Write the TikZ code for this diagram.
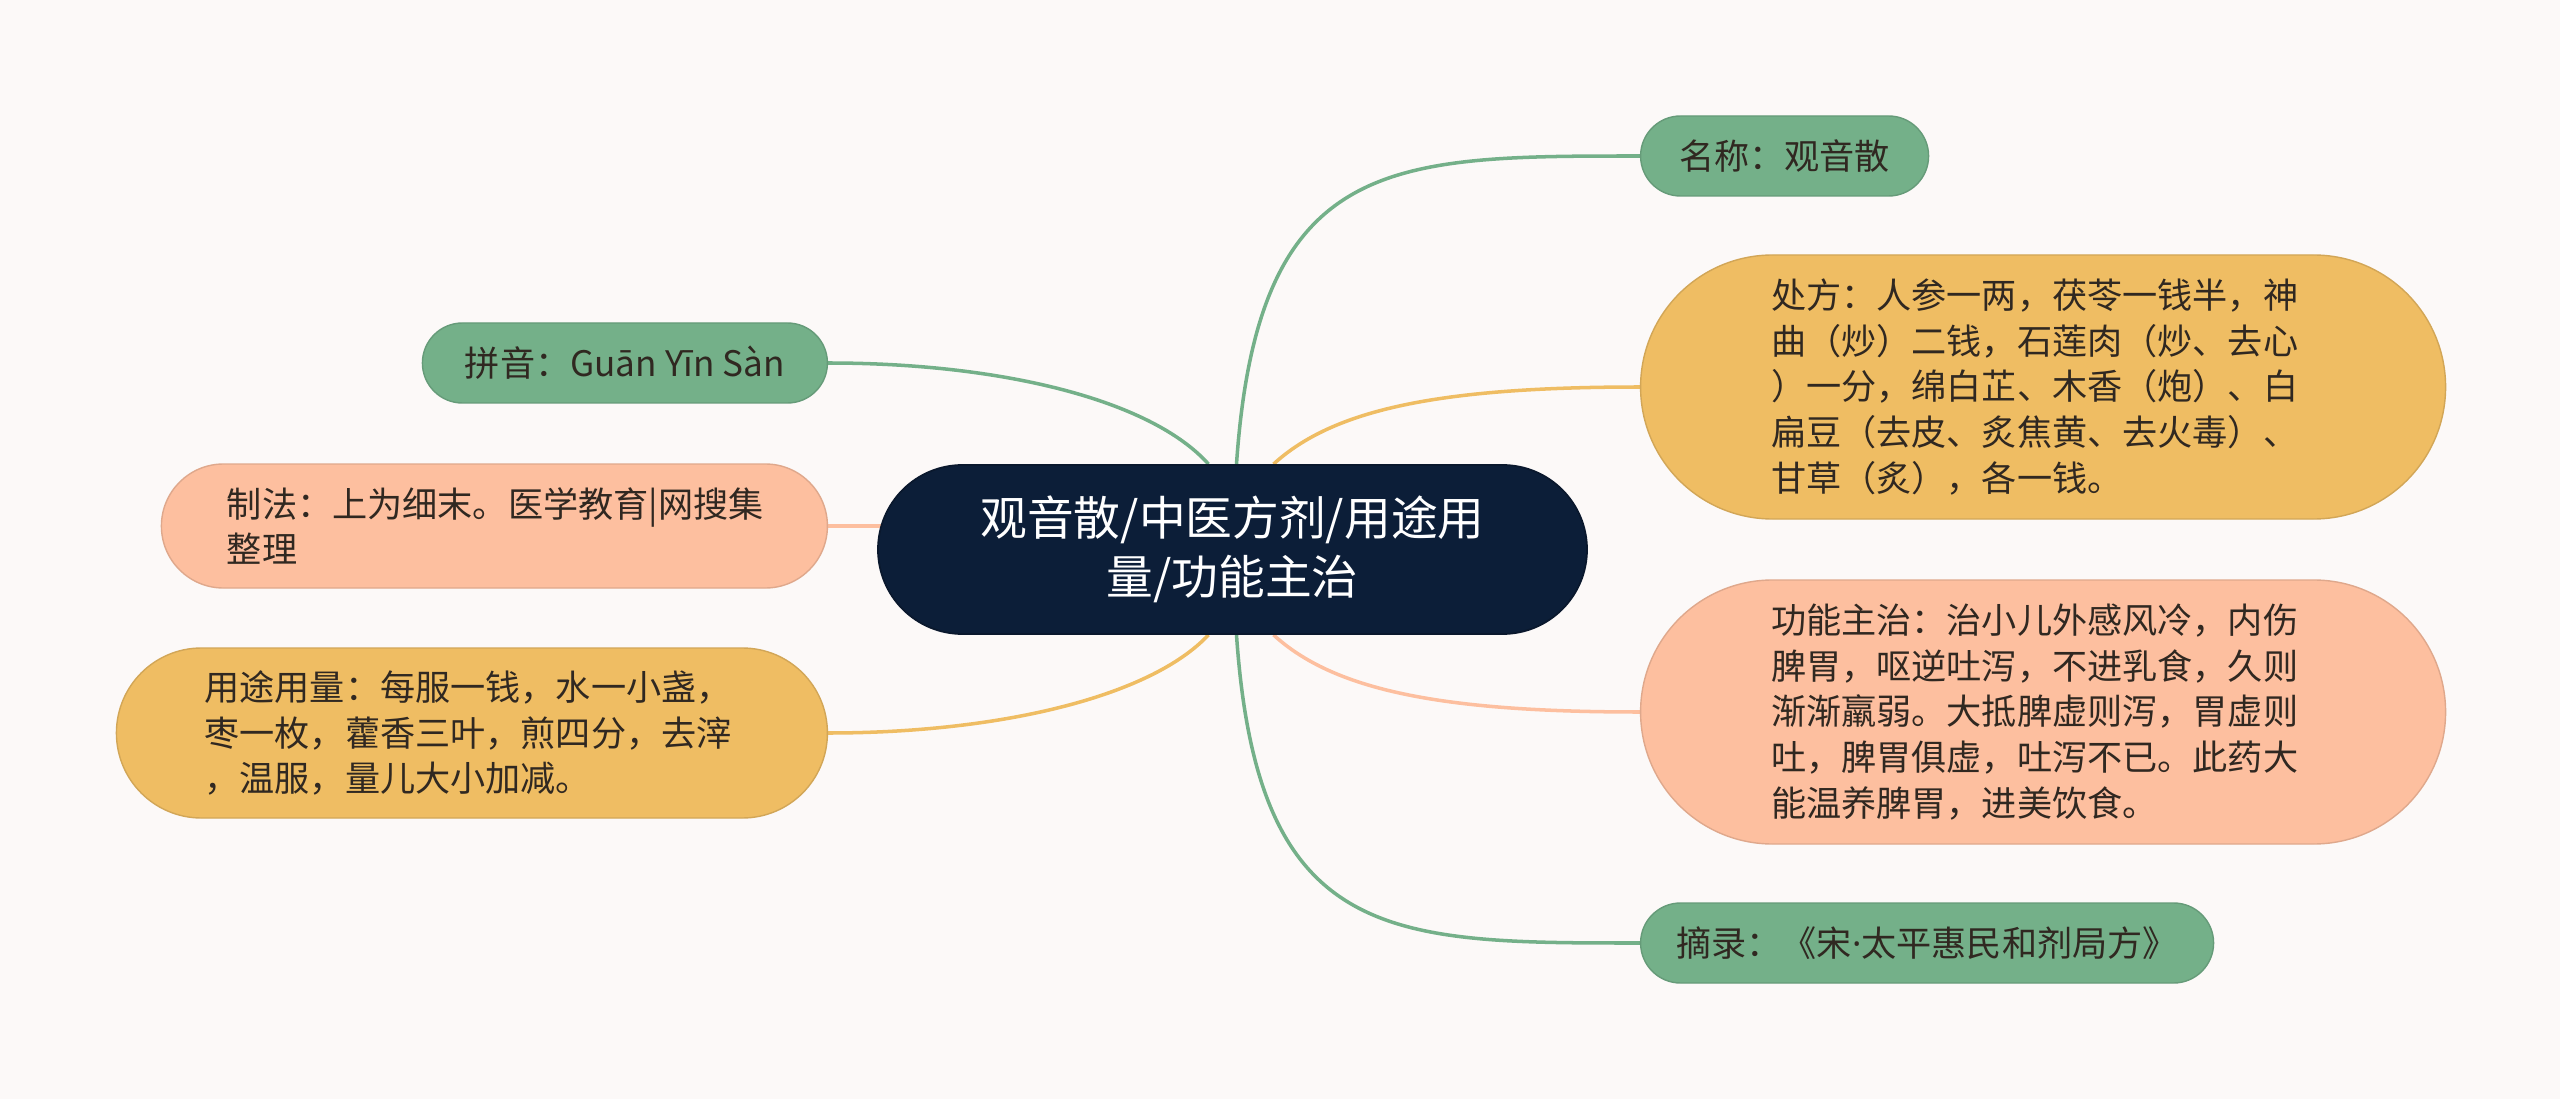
\documentclass[tikz,border=0pt]{standalone}
\usepackage{fontspec}
\setmainfont{Noto Sans CJK SC}
\newfontfamily\dotfont{Noto Sans}
\usepackage{tikz}
\usetikzlibrary{positioning, backgrounds}
\definecolor{tcmbg}{RGB}{252,249,248}
\definecolor{tcmnavy}{RGB}{12,30,56}
\definecolor{tcmgreen}{RGB}{116,176,137}
\definecolor{tcmorange}{RGB}{239,189,99}
\definecolor{tcmsalmon}{RGB}{253,191,159}
\definecolor{tcmtext}{RGB}{48,40,33}
\newcommand{\leaffont}{\fontsize{10pt}{13pt}\selectfont}
\newcommand{\hubfont}{\fontsize{13.3pt}{16.8pt}\selectfont}
\tikzset{
  %% ---- boxes ----
  hub/.style  = {rectangle, rounded corners=0.845cm,
                 draw=tcmnavy!80!black, line width=0.5pt,
                 fill=tcmnavy, text=white, align=center,
                 minimum width=7.09cm, minimum height=1.69cm,
                 inner sep=0pt, font=\hubfont},
  leaf/.style = {rectangle, draw=#1!88!black, line width=0.4pt,
                 fill=#1, text=tcmtext, inner sep=0pt,
                 font=\leaffont},
  leaf/.default = tcmgreen,
  oneline/.style = {minimum height=0.8cm, rounded corners=0.4cm,
                 align=center},
  %% ---- connectors ----
  link/.style = {line width=1pt, draw=#1},
}

\begin{document}
\begin{tikzpicture}[node distance = 0.5cm]

\useasboundingbox (0,0) rectangle (25.6,10.99);

% central topic
\node[hub] (hub) at (12.325,5.495)
  {观音散/中医方剂/用途用\\量/功能主治};

% right side
\node[leaf, oneline, minimum width=2.88cm,
      right=0.52cm of hub, yshift=3.935cm]
  (name) {名称：观音散};

\node[leaf=tcmorange, minimum width=8.05cm, minimum height=2.64cm,
      rounded corners=1.32cm, text width=5.44cm, align=left,
      right=0.52cm of hub, yshift=1.625cm]
  (recipe) {处方：人参一两，茯苓一钱半，神\\
            曲（炒）二钱，石莲肉（炒、去心\\
            ）一分，绵白芷、木香（炮）、白\\
            扁豆（去皮、炙焦黄、去火毒）、\\
            甘草（炙），各一钱。};

\node[leaf=tcmsalmon, minimum width=8.05cm, minimum height=2.64cm,
      rounded corners=1.32cm, text width=5.44cm, align=left,
      right=0.52cm of hub, yshift=-1.625cm]
  (effect) {功能主治：治小儿外感风冷，内伤\\
            脾胃，呕逆吐泻，不进乳食，久则\\
            渐渐羸弱。大抵脾虚则泻，胃虚则\\
            吐，脾胃俱虚，吐泻不已。此药大\\
            能温养脾胃，进美饮食。};

\node[leaf, oneline, minimum width=5.73cm,
      right=0.52cm of hub, yshift=-3.935cm]
  (source) {摘录：《宋{\dotfont·}太平惠民和剂局方》};

% left side
\node[leaf, oneline, minimum width=4.05cm,
      left=0.49cm of hub, yshift=1.865cm]
  (pinyin) {拼音：Guān Yīn Sàn};

\node[leaf=tcmsalmon, minimum width=6.66cm, minimum height=1.24cm,
      rounded corners=0.62cm, text width=5.35cm, align=left,
      left=0.49cm of hub, yshift=0.235cm]
  (method) {制法：上为细末。医学教育|网搜集\\整理};

\node[leaf=tcmorange, minimum width=7.11cm, minimum height=1.70cm,
      rounded corners=0.85cm, text width=5.35cm, align=left,
      left=0.49cm of hub, yshift=-1.835cm]
  (usage) {用途用量：每服一钱，水一小盏，\\
           枣一枚，藿香三叶，煎四分，去滓\\
           ，温服，量儿大小加减。};

% branches
\begin{scope}[on background layer]
\fill[tcmbg] (0,0) rectangle (25.6,10.99);
\draw[link=tcmgreen] ([xshift=0.04cm]hub.north)
  .. controls +(0.21,3.08) and +(-2.51,0) .. (name.west);
\draw[link=tcmorange] ([xshift=0.41cm]hub.north)
  .. controls +(0.6,0.55) and +(-2.0,0) .. (recipe.west);
\draw[link=tcmsalmon] ([xshift=0.41cm]hub.south)
  .. controls +(0.6,-0.55) and +(-2.0,0) .. (effect.west);
\draw[link=tcmgreen] ([xshift=0.04cm]hub.south)
  .. controls +(0.21,-3.08) and +(-2.51,0) .. (source.west);
\draw[link=tcmgreen] ([xshift=-0.24cm]hub.north)
  .. controls +(-0.58,0.65) and +(1.71,0) .. (pinyin.east);
\draw[link=tcmorange] ([xshift=-0.24cm]hub.south)
  .. controls +(-0.58,-0.62) and +(1.71,0) .. (usage.east);
\draw[link=tcmsalmon] (method.east) -- (method.east -| hub.center);
\end{scope}

\end{tikzpicture}
\end{document}
